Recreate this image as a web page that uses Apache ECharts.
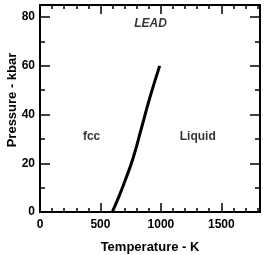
<!DOCTYPE html>
<html><head><meta charset="utf-8">
<script src="https://cdn.jsdelivr.net/npm/echarts@6/dist/echarts.min.js"></script>
<style>html,body{margin:0;padding:0;background:#fff}#c{width:266px;height:255px}</style>
</head><body><div id="c"></div>
<script>
const temperatureK = [598, 650, 702, 771, 840, 909, 990];
const pressureKbar = [0, 6, 12.6, 22.3, 34.6, 47, 60];
const xTicks = [0, 500, 1000, 1500];
const yTicks = [0, 20, 40, 60, 80];
const regionLabels = [
  {text: 'LEAD', x: 915, y: 77.5, italic: true},
  {text: 'fcc', x: 427, y: 31},
  {text: 'Liquid', x: 1305, y: 31}
];
const XMAX = 1820, YMAX = 85;
const FONT = 'Liberation Sans';
const chart = echarts.init(document.getElementById('c'), null, {renderer: 'canvas'});
function xa(grid, pos, interval, len, labels) {
  return {type: 'value', gridIndex: grid, min: 0, max: XMAX, interval: interval, position: pos,
    axisLine: {show: true, onZero: false, lineStyle: {color: '#000', width: 2}},
    axisTick: {show: true, inside: true, length: len, lineStyle: {color: '#000', width: 1.5}},
    axisLabel: {show: labels, margin: 7, color: '#000', fontFamily: FONT, fontWeight: 'bold', fontSize: 12,
      showMaxLabel: false, formatter: v => xTicks.includes(v) ? String(v) : ''},
    splitLine: {show: false}};
}
function ya(grid, pos, interval, len, labels) {
  return {type: 'value', gridIndex: grid, min: 0, max: YMAX, interval: interval, position: pos,
    axisLine: {show: true, onZero: false, lineStyle: {color: '#000', width: 2}},
    axisTick: {show: true, inside: true, length: len, lineStyle: {color: '#000', width: 1.5}},
    axisLabel: {show: labels, margin: 5, color: '#000', fontFamily: FONT, fontWeight: 'bold', fontSize: 12,
      showMaxLabel: false, formatter: v => yTicks.includes(v) ? String(v) : ''},
    splitLine: {show: false}};
}
const g = {left: 40, right: 6, top: 5, bottom: 43, containLabel: false};
chart.setOption({
  animation: false,
  grid: [Object.assign({}, g), Object.assign({}, g)],
  xAxis: [xa(0, 'bottom', 500, 9, true), xa(0, 'top', 500, 9, false), xa(1, 'bottom', 100, 4, false), xa(1, 'top', 100, 4, false)],
  yAxis: [ya(0, 'left', 20, 10, true), ya(0, 'right', 20, 10, false), ya(1, 'left', 10, 5, false), ya(1, 'right', 10, 5, false)],
  series: [{
    type: 'line', xAxisIndex: 0, yAxisIndex: 0, smooth: true, symbol: 'none',
    lineStyle: {color: '#000', width: 3},
    data: temperatureK.map((t, i) => [t, pressureKbar[i]])
  }, {
    type: 'scatter', xAxisIndex: 0, yAxisIndex: 0, symbolSize: 0,
    data: regionLabels.map(r => ({value: [r.x, r.y], label: {show: true, position: 'inside', formatter: r.text,
      color: '#000', fontFamily: FONT, fontWeight: 'bold', fontSize: 12, fontStyle: r.italic ? 'italic' : 'normal'}}))
  }],
  graphic: [
    {type: 'text', x: 150, y: 247, style: {text: 'Temperature - K', align: 'center', verticalAlign: 'middle',
      fill: '#000', font: 'bold 13px ' + FONT}},
    {type: 'text', x: 12, y: 100, rotation: Math.PI / 2, style: {text: 'Pressure - kbar', align: 'center', verticalAlign: 'middle',
      fill: '#000', font: 'bold 13px ' + FONT}}
  ]
});
</script></body></html>
